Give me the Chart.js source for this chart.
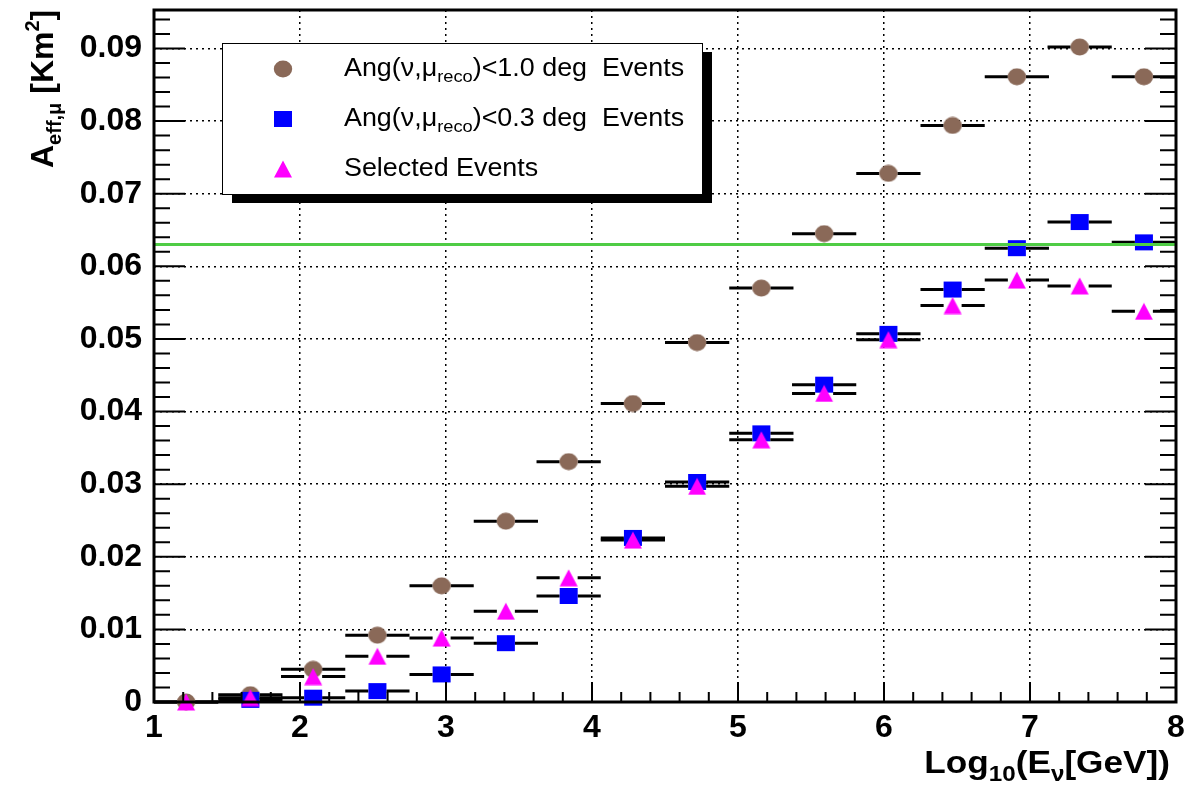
<!DOCTYPE html>
<html>
<head>
<meta charset="utf-8">
<title>Effective area</title>
<script src="https://cdn.jsdelivr.net/npm/chart.js@4.4.1/dist/chart.umd.min.js"></script>
<style>
  html, body { margin: 0; padding: 0; background: #fff; }
  canvas { display: block; }
</style>
</head>
<body>
<canvas id="aeff-chart" width="1190" height="786"></canvas>
<script>
// bin centres, log10(E / GeV)
const binCenters = [1.22, 1.66, 2.09, 2.53, 2.97, 3.41, 3.84, 4.28, 4.72, 5.16, 5.59, 6.03, 6.47, 6.91, 7.34, 7.78];
const binHalfWidth = 0.22;

// effective area [km^2]; null = no point drawn
const ang10Events    = [0.0000, 0.0010, 0.0045, 0.0092, 0.0160, 0.0249, 0.0331, 0.0411, 0.0495, 0.0570, 0.0645, 0.0728, 0.0794, 0.0861, 0.0902, 0.0861];
const ang03Events    = [null,   0.0003, 0.0006, 0.0015, 0.0038, 0.0081, 0.0146, 0.0226, 0.0303, 0.0370, 0.0437, 0.0507, 0.0568, 0.0625, 0.0661, 0.0633];
const selectedEvents = [0.0000, 0.0006, 0.0035, 0.0063, 0.0088, 0.0125, 0.0171, 0.0223, 0.0297, 0.0361, 0.0425, 0.0499, 0.0546, 0.0581, 0.0573, 0.0538];
const referenceLevel = 0.063;

const xTicks = [1, 2, 3, 4, 5, 6, 7, 8];
const yTicks = [0, 0.01, 0.02, 0.03, 0.04, 0.05, 0.06, 0.07, 0.08, 0.09];
const yMax = 0.0953;

// legend labels, split as [text, subscript, text]
const legendLabels = [
  ['Ang(ν,μ', 'reco', ')<1.0 deg  Events'],
  ['Ang(ν,μ', 'reco', ')<0.3 deg  Events'],
  ['Selected Events', '', '']
];

const FONT = '"Liberation Sans", Arial, Helvetica, sans-serif';

function marker(kind, color) {
  const c = document.createElement('canvas');
  c.width = 20; c.height = 18;
  const g = c.getContext('2d');
  g.fillStyle = color;
  g.beginPath();
  if (kind === 'circle') g.ellipse(10, 9, 9.2, 8.4, 0, 0, 2 * Math.PI);
  else if (kind === 'square') g.rect(1, 1, 18, 16);
  else { g.moveTo(10, 0.5); g.lineTo(19, 17.5); g.lineTo(1, 17.5); g.closePath(); }
  g.fill();
  return c;
}

const markers = [
  marker('circle', '#8a6958'),
  marker('square', '#0000ff'),
  marker('triangle', '#ff00ff')
];

function toPoints(values) {
  return values.map((v, i) => (v === null ? null : { x: binCenters[i], y: v })).filter(p => p);
}

// text with sub/superscripts; stretch widens glyphs horizontally
function drawRich(ctx, parts, x, y, align, weight, stretch) {
  const widths = parts.map(p => {
    ctx.font = weight + ' ' + p.size + 'px ' + FONT;
    return ctx.measureText(p.text).width;
  });
  const total = widths.reduce((a, b) => a + b, 0) * stretch;
  ctx.save();
  ctx.translate(align === 'right' ? x - total : x, y);
  ctx.scale(stretch, 1);
  ctx.textAlign = 'left';
  ctx.textBaseline = 'alphabetic';
  let cx = 0;
  parts.forEach((p, i) => {
    ctx.font = weight + ' ' + p.size + 'px ' + FONT;
    ctx.fillText(p.text, cx, p.dy || 0);
    cx += widths[i];
  });
  ctx.restore();
}

const rootStyle = {
  id: 'rootStyle',
  // horizontal bin-width bars, drawn just below each set of markers
  beforeDatasetDraw(chart, args) {
    const ds = chart.data.datasets[args.index];
    const xs = chart.scales.x, ys = chart.scales.y;
    const ctx = chart.ctx;
    ctx.save();
    ctx.strokeStyle = '#000';
    ctx.lineWidth = 3;
    ds.data.forEach(p => {
      const py = ys.getPixelForValue(p.y);
      const x0 = xs.getPixelForValue(p.x - binHalfWidth);
      const x1 = xs.getPixelForValue(p.x + binHalfWidth);
      const xc = xs.getPixelForValue(p.x);
      ctx.beginPath();
      ctx.moveTo(x0, py); ctx.lineTo(xc - 9, py);
      ctx.moveTo(xc + 9, py); ctx.lineTo(x1, py);
      ctx.stroke();
    });
    ctx.restore();
  },
  afterDraw(chart) {
    const ctx = chart.ctx;
    const a = chart.chartArea;
    const xs = chart.scales.x, ys = chart.scales.y;
    ctx.save();

    // reference level
    const gy = ys.getPixelForValue(referenceLevel);
    ctx.strokeStyle = '#4fcc45';
    ctx.lineWidth = 3;
    ctx.beginPath();
    ctx.moveTo(a.left, gy); ctx.lineTo(a.right, gy);
    ctx.stroke();

    // legend with shadow
    const lx = 222, ly = 43, lw = 480, lh = 151;
    ctx.fillStyle = '#000';
    ctx.fillRect(lx + 10, ly + 9, lw, lh);
    ctx.fillStyle = '#fff';
    ctx.fillRect(lx, ly, lw, lh);
    ctx.strokeStyle = '#000';
    ctx.lineWidth = 1;
    ctx.strokeRect(lx + 0.5, ly + 0.5, lw, lh);
    ctx.fillStyle = '#000';
    legendLabels.forEach((lab, i) => {
      const cy = 69 + i * 50;
      const m = markers[i];
      ctx.drawImage(m, 283 - m.width / 2, cy - m.height / 2);
      drawRich(ctx, [
        { text: lab[0], size: 25 },
        { text: lab[1], size: 17, dy: 6 },
        { text: lab[2], size: 25 }
      ], 344, cy + 7, 'left', 'normal', 1.075);
    });

    // tick marks
    ctx.strokeStyle = '#000';
    ctx.lineWidth = 2;
    ctx.beginPath();
    for (let i = 0; i < yTicks.length; i++) {
      const step = (i + 1 < yTicks.length ? yTicks[i + 1] : yTicks[i] + 0.01) - yTicks[i];
      for (let k = 0; k < 5; k++) {
        const v = yTicks[i] + k * step / 5;
        if (v > yMax) break;
        const py = ys.getPixelForValue(v);
        const len = k === 0 ? 31 : 16;
        ctx.moveTo(a.left, py); ctx.lineTo(a.left + len, py);
        ctx.moveTo(a.right, py); ctx.lineTo(a.right - len, py);
      }
    }
    for (let i = 0; i < xTicks.length; i++) {
      const n = i + 1 < xTicks.length ? 5 : 1;
      for (let k = 0; k < n; k++) {
        const v = xTicks[i] + k * (xTicks[1] - xTicks[0]) / 5;
        const px = xs.getPixelForValue(v);
        const len = k === 0 ? 20 : 10;
        ctx.moveTo(px, a.bottom); ctx.lineTo(px, a.bottom - len);
      }
    }
    ctx.stroke();

    // frame
    ctx.lineWidth = 3;
    ctx.strokeRect(a.left, a.top, a.right - a.left, a.bottom - a.top);

    // axis titles
    ctx.fillStyle = '#000';
    drawRich(ctx, [
      { text: 'Log', size: 32 },
      { text: '10', size: 22, dy: 8 },
      { text: '(E', size: 32 },
      { text: 'ν', size: 22, dy: 8 },
      { text: '[GeV])', size: 32 }
    ], 1170, 773, 'right', 'bold', 1.1);

    ctx.translate(53, 168);
    ctx.rotate(-Math.PI / 2);
    drawRich(ctx, [
      { text: 'A', size: 32 },
      { text: 'eff,μ', size: 20, dy: 8 },
      { text: ' [Km', size: 32 },
      { text: '2', size: 20, dy: -14 },
      { text: ']', size: 32 }
    ], 0, 0, 'left', 'bold', 1);

    ctx.restore();
  }
};

const tickFont = { family: FONT, size: 32, weight: 'bold' };

new Chart(document.getElementById('aeff-chart'), {
  type: 'scatter',
  data: {
    datasets: [
      { label: 'Ang<1.0 deg', data: toPoints(ang10Events), pointStyle: markers[0], pointRadius: 9, order: 3, clip: false },
      { label: 'Ang<0.3 deg', data: toPoints(ang03Events), pointStyle: markers[1], pointRadius: 9, order: 2, clip: false },
      { label: 'Selected', data: toPoints(selectedEvents), pointStyle: markers[2], pointRadius: 9, order: 1, clip: false }
    ]
  },
  options: {
    responsive: false,
    animation: false,
    events: [],
    layout: { padding: { left: 0, top: 8, right: 14, bottom: 0 } },
    plugins: { legend: { display: false }, tooltip: { enabled: false } },
    scales: {
      x: {
        type: 'linear',
        min: 1,
        max: 8,
        afterBuildTicks: s => { s.ticks = xTicks.map(v => ({ value: v })); },
        afterFit: s => { s.height = 84; s.paddingLeft = 0; s.paddingRight = 0; },
        ticks: { color: '#000', font: tickFont, padding: 7, maxRotation: 0, autoSkip: false, callback: v => String(v) },
        grid: { color: '#000', lineWidth: 1.5, drawTicks: false },
        border: { display: false, dash: [2, 4] }
      },
      y: {
        type: 'linear',
        min: 0,
        max: yMax,
        afterBuildTicks: s => { s.ticks = yTicks.map(v => ({ value: v })); },
        afterFit: s => { s.width = 154; s.paddingTop = 0; s.paddingBottom = 0; },
        ticks: { color: '#000', font: tickFont, padding: 12, autoSkip: false, callback: v => v === 0 ? '0' : v.toFixed(2) },
        grid: { color: '#000', lineWidth: 1.5, drawTicks: false },
        border: { display: false, dash: [2, 4] }
      }
    }
  },
  plugins: [rootStyle]
});
</script>
</body>
</html>
